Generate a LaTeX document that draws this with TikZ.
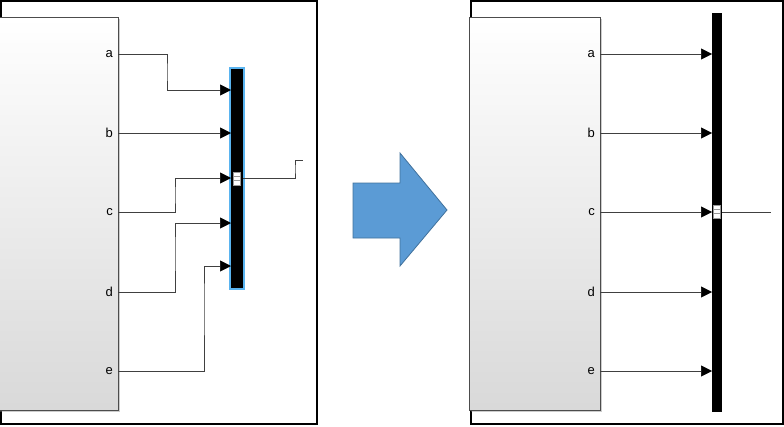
\documentclass[tikz,border=0pt]{standalone}
\usepackage{fontspec}
\setsansfont{Liberation Sans}
\usetikzlibrary{arrows.meta,shadows}
\definecolor{selblue}{RGB}{90,180,240}
\definecolor{bigarrow}{RGB}{91,155,213}
\definecolor{bigarrowline}{RGB}{65,113,156}

\begin{document}
\begin{tikzpicture}[x=1pt,y=-1pt,
		frame/.style={draw=black,line width=1.5pt},
		block/.style={draw=black!70,top color=white,bottom color=black!15,drop shadow={shadow xshift=2pt,shadow yshift=-2pt,opacity=0.4}},
		bus/.style={fill=black},
		wire/.style={draw=black!75,line width=0.5pt,-{Triangle[length=11pt,width=11pt,fill=black,color=black]}},
		plain wire/.style={draw=black!75,line width=0.5pt},
		port/.style={font=\sffamily\fontsize{13}{15}\selectfont,anchor=east,inner sep=0pt},
		marker/.style={fill=white,draw=black!40,line width=0.3pt},
]

\useasboundingbox (0,0) rectangle (784,426);

% left: before
\draw [frame] (1,1) rectangle (317,424);
\path [block] (-2,17) rectangle (118,410);
\draw [black!70] (0,17) -- (118,17) -- (118,410);
\draw [draw=selblue,line width=2pt,fill=black] (230,68) rectangle (244,289);
\foreach \n/\y in {a/54,b/133,c/212,d/292,e/371}{
	\node [port] (La\n) at (113,\y) {\n};
	\coordinate (Lo\n) at (118,\y);
}
\foreach \n/\y in {1/90,2/133,3/178,4/223,5/266}
	\coordinate (Li\n) at (231,\y);
\draw [wire] (Loa) -| (167,72) |- (Li1);
\draw [wire] (Lob) -- (Li2);
\draw [wire] (Loc) -| (175,195) |- (Li3);
\draw [wire] (Lod) -| (175,250) |- (Li4);
\draw [wire] (Loe) -| (204,300) |- (Li5);
\coordinate (Lout) at (303,160);
\draw [plain wire] (243,178) -| (295,169) |- (Lout);
\path [marker] (233,172) rectangle (240,185);
\draw [black!40,line width=0.3pt] (233,176.5) -- (240,176.5) (233,180.5) -- (240,180.5);

% arrow between
\draw [fill=bigarrow,draw=bigarrowline,line width=0.8pt]
	(353,183) -- (400,183) -- (400,153) -- (447,210) -- (400,266) -- (400,238) -- (353,238) -- cycle;

% right: after
\draw [frame] (471,1) rectangle (783,424);
\path [block] (469,17) rectangle (600,410);
\draw [black!70] (471,17) -- (600,17) -- (600,410);
\path [bus] (712,13) rectangle (722,412);
\foreach \n/\y in {a/54,b/133,c/212,d/292,e/371}{
	\node [port] (Ra\n) at (595,\y) {\n};
	\coordinate (Ro\n) at (600,\y);
	\coordinate (Ri\n) at (712,\y);
	\draw [wire] (Ro\n) -- (Ri\n);
}
\coordinate (Rout) at (771,212);
\draw [plain wire] (722,212) -- (Rout);
\path [marker] (713,205) rectangle (720,218);
\draw [black!40,line width=0.3pt] (713,209.5) -- (720,209.5) (713,213.5) -- (720,213.5);

\end{tikzpicture}
\end{document}
